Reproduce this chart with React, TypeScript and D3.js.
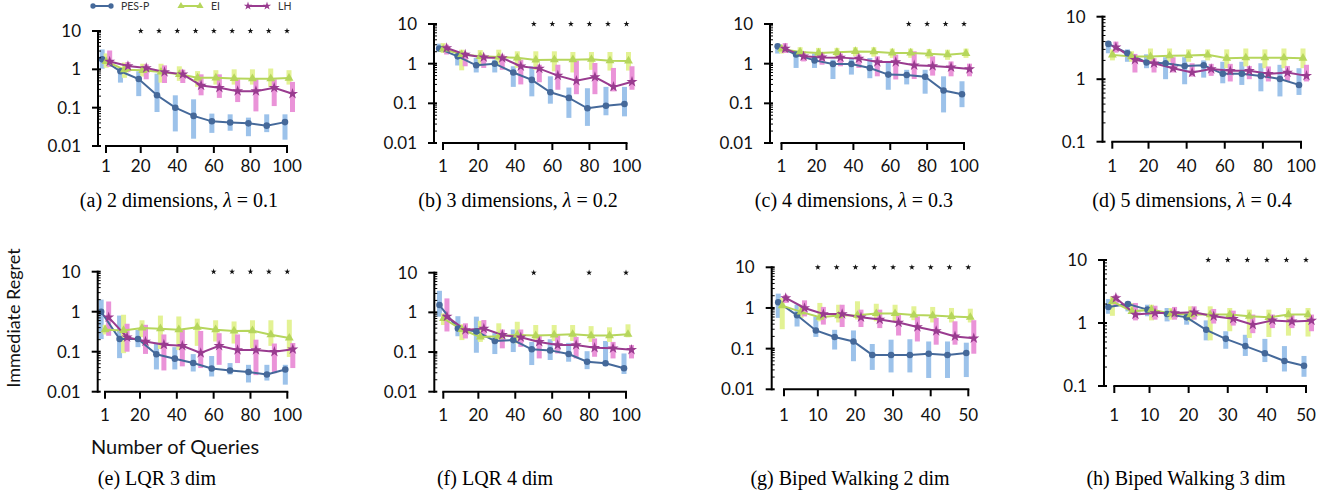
import React from 'react';
import * as d3 from 'd3';

// x positions of the sampled points
const xFull = [0, 10, 20, 30, 40, 50, 60, 70, 80, 90, 100];
const xHalf = [0, 5, 10, 15, 20, 25, 30, 35, 40, 45, 50];
const ticksFull = [1, 20, 40, 60, 80, 100];
const ticksHalf = [1, 10, 20, 30, 40, 50];

// each series: [mean, low, high] per point
// (a) 2 dimensions
const aPes = [[1.82, 1.04, 3.3], [0.89, 0.45, 0.95], [0.56, 0.2, 0.89], [0.21, 0.077, 0.77], [0.1, 0.024, 0.21], [0.061, 0.0155, 0.165], [0.044, 0.022, 0.07], [0.041, 0.025, 0.067], [0.039, 0.018, 0.055], [0.034, 0.023, 0.067], [0.042, 0.0146, 0.067]];
const aEi = [[1.6, 1.1, 2.6], [0.98, 0.6, 1.5], [0.94, 0.65, 1.4], [0.85, 0.45, 1.4], [0.74, 0.5, 1.2], [0.6, 0.35, 0.9], [0.6, 0.4, 0.95], [0.58, 0.4, 1.0], [0.57, 0.4, 1.0], [0.57, 0.35, 1.05], [0.59, 0.4, 0.95]];
const aLh = [[1.6, 1.15, 3.1], [1.22, 0.85, 1.55], [1.08, 0.55, 1.35], [0.85, 0.44, 1.27], [0.74, 0.44, 0.98], [0.38, 0.21, 0.74], [0.33, 0.18, 0.74], [0.27, 0.14, 0.55], [0.27, 0.08, 0.57], [0.33, 0.11, 0.55], [0.23, 0.077, 0.47]];
// (b) 3 dimensions
const bPes = [[2.4, 2.05, 3.2], [1.53, 0.9, 1.7], [0.91, 0.6, 1.4], [1.0, 0.6, 1.26], [0.6, 0.26, 0.86], [0.39, 0.15, 0.86], [0.19, 0.098, 0.48], [0.137, 0.043, 0.25], [0.075, 0.027, 0.24], [0.087, 0.05, 0.26], [0.096, 0.047, 0.26]];
const bEi = [[2.34, 1.86, 3.3], [1.7, 0.68, 2.25], [1.53, 0.86, 2.2], [1.47, 0.89, 2.25], [1.4, 0.78, 2.05], [1.24, 0.7, 2.05], [1.26, 0.64, 2.05], [1.26, 0.6, 1.97], [1.29, 0.7, 1.97], [1.19, 0.67, 1.97], [1.17, 0.67, 1.97]];
const bLh = [[2.48, 1.7, 3.0], [1.7, 0.86, 1.93], [1.44, 0.78, 1.7], [1.39, 0.7, 1.7], [0.86, 0.3, 1.26], [0.75, 0.34, 0.94], [0.5, 0.22, 0.94], [0.37, 0.17, 1.2], [0.46, 0.17, 1.04], [0.26, 0.2, 0.78], [0.35, 0.22, 0.86]];
// (c) 4 dimensions
const cPes = [[2.73, 1.8, 3.0], [1.7, 0.78, 1.86], [1.21, 0.78, 1.8], [0.98, 0.41, 1.26], [0.98, 0.53, 1.39], [0.78, 0.43, 1.39], [0.53, 0.22, 1.14], [0.52, 0.3, 0.7], [0.47, 0.175, 0.7], [0.21, 0.059, 0.48], [0.17, 0.08, 0.36]];
const cEi = [[2.34, 1.8, 3.0], [1.97, 1.5, 2.6], [1.86, 1.4, 2.5], [1.93, 1.45, 2.5], [2.04, 1.55, 2.6], [2.0, 1.5, 2.6], [1.86, 1.4, 2.4], [1.86, 1.4, 2.4], [1.79, 1.35, 2.35], [1.69, 1.25, 2.25], [1.82, 1.4, 2.4]];
const cLh = [[2.39, 1.86, 3.3], [1.53, 1.14, 2.05], [1.44, 0.94, 1.86], [1.42, 0.86, 1.8], [1.34, 0.78, 1.7], [1.1, 0.48, 1.53], [1.1, 0.4, 1.69], [0.91, 0.41, 2.05], [0.87, 0.5, 1.53], [0.81, 0.48, 1.14], [0.73, 0.48, 1.0]];
// (d) 5 dimensions
const dPes = [[3.67, 2.6, 4.0], [2.6, 1.9, 3.0], [1.85, 1.5, 2.5], [1.8, 1.0, 2.25], [1.63, 0.83, 2.25], [1.67, 1.06, 2.0], [1.22, 0.86, 1.9], [1.22, 0.81, 1.9], [1.13, 0.64, 1.8], [1.01, 0.53, 1.7], [0.81, 0.56, 1.5]];
const dEi = [[2.45, 2.0, 3.0], [2.3, 1.9, 2.8], [2.3, 1.85, 3.1], [2.37, 1.9, 3.1], [2.4, 1.9, 3.0], [2.45, 2.0, 3.0], [2.17, 1.5, 3.0], [2.2, 1.6, 3.1], [2.2, 1.5, 3.0], [2.2, 1.5, 3.1], [2.17, 1.5, 3.1]];
const dLh = [[3.25, 2.66, 4.0], [2.04, 1.28, 2.54], [1.8, 1.28, 2.17], [1.5, 1.28, 2.25], [1.28, 1.1, 1.8], [1.45, 1.13, 1.76], [1.36, 0.92, 1.76], [1.36, 1.0, 1.63], [1.22, 0.92, 1.6], [1.28, 0.94, 1.63], [1.13, 0.92, 1.7]];
// (e) LQR 3 dim
const ePes = [[1.0, 0.207, 2.0], [0.207, 0.069, 0.8], [0.207, 0.13, 0.35], [0.086, 0.036, 0.17], [0.067, 0.036, 0.13], [0.052, 0.032, 0.087], [0.038, 0.024, 0.078], [0.034, 0.027, 0.052], [0.031, 0.017, 0.047], [0.027, 0.019, 0.047], [0.036, 0.015, 0.047]];
const eEi = [[0.355, 0.27, 0.47], [0.34, 0.092, 0.84], [0.39, 0.23, 0.61], [0.375, 0.117, 0.8], [0.355, 0.11, 0.76], [0.41, 0.14, 0.67], [0.355, 0.18, 0.61], [0.33, 0.16, 0.57], [0.335, 0.124, 0.61], [0.266, 0.14, 0.61], [0.22, 0.074, 0.63]];
const eLh = [[0.72, 0.25, 1.8], [0.23, 0.1, 0.5], [0.18, 0.088, 0.47], [0.15, 0.034, 0.27], [0.14, 0.043, 0.36], [0.093, 0.039, 0.33], [0.14, 0.047, 0.29], [0.11, 0.052, 0.27], [0.11, 0.026, 0.2], [0.1, 0.029, 0.16], [0.115, 0.039, 0.165]];
// (f) LQR 4 dim
const fPes = [[1.53, 0.78, 3.5], [0.39, 0.25, 0.8], [0.33, 0.096, 0.78], [0.19, 0.089, 0.3], [0.2, 0.1, 0.37], [0.117, 0.047, 0.18], [0.11, 0.063, 0.21], [0.089, 0.057, 0.17], [0.057, 0.037, 0.105], [0.052, 0.044, 0.19], [0.039, 0.028, 0.092]];
const fEi = [[0.7, 0.48, 0.94], [0.37, 0.2, 0.5], [0.24, 0.18, 0.61], [0.25, 0.19, 0.53], [0.27, 0.165, 0.58], [0.26, 0.18, 0.48], [0.27, 0.19, 0.48], [0.28, 0.19, 0.48], [0.26, 0.18, 0.45], [0.26, 0.18, 0.42], [0.28, 0.235, 0.5]];
const fLh = [[0.78, 0.33, 2.25], [0.36, 0.22, 0.53], [0.39, 0.235, 0.64], [0.27, 0.124, 0.37], [0.235, 0.135, 0.37], [0.18, 0.069, 0.27], [0.15, 0.092, 0.27], [0.15, 0.069, 0.24], [0.128, 0.076, 0.22], [0.124, 0.069, 0.18], [0.114, 0.069, 0.15]];
// (g) Biped walking 2 dim
const gPes = [[1.38, 0.57, 2.25], [0.66, 0.35, 1.2], [0.28, 0.194, 0.62], [0.194, 0.095, 0.29], [0.15, 0.049, 0.28], [0.07, 0.03, 0.13], [0.07, 0.026, 0.166], [0.07, 0.026, 0.17], [0.075, 0.019, 0.15], [0.07, 0.019, 0.15], [0.078, 0.02, 0.14]];
const gEi = [[1.14, 0.3, 1.76], [0.8, 0.57, 1.2], [0.59, 0.47, 1.33], [0.65, 0.44, 1.2], [0.66, 0.52, 1.46], [0.73, 0.47, 1.27], [0.73, 0.47, 1.2], [0.67, 0.5, 1.1], [0.65, 0.44, 1.06], [0.62, 0.44, 1.0], [0.59, 0.44, 0.96]];
const gLh = [[1.76, 1.33, 2.1], [1.0, 0.62, 1.54], [0.71, 0.39, 1.06], [0.71, 0.34, 1.2], [0.59, 0.34, 0.91], [0.52, 0.32, 0.91], [0.44, 0.21, 0.69], [0.34, 0.15, 0.62], [0.27, 0.125, 0.57], [0.2, 0.125, 0.47], [0.18, 0.075, 0.5]];
// (h) Biped walking 3 dim
const hPes = [[1.79, 1.4, 2.4], [2.0, 1.53, 2.2], [1.63, 1.28, 1.95], [1.39, 1.06, 1.73], [1.23, 0.94, 1.44], [0.78, 0.53, 1.1], [0.56, 0.39, 0.74], [0.43, 0.3, 0.65], [0.33, 0.24, 0.56], [0.25, 0.17, 0.43], [0.21, 0.14, 0.3]];
const hEi = [[2.2, 1.3, 2.65], [1.53, 1.44, 2.08], [1.63, 1.1, 1.95], [1.4, 1.13, 1.73], [1.36, 1.06, 1.84], [1.36, 0.53, 1.84], [1.36, 0.74, 1.73], [1.28, 0.58, 1.63], [1.23, 0.6, 1.63], [1.36, 0.63, 1.73], [1.36, 0.61, 1.73]];
const hLh = [[2.5, 1.84, 2.8], [1.36, 1.1, 2.08], [1.44, 1.13, 1.88], [1.44, 1.13, 1.8], [1.48, 1.13, 1.84], [1.28, 0.98, 1.67], [1.17, 0.91, 1.57], [0.94, 0.69, 1.36], [1.1, 0.83, 1.36], [1.06, 0.83, 1.36], [1.09, 0.74, 1.36]];

// significance stars
const aStars = [20, 30, 40, 50, 60, 70, 80, 90, 100];
const bStars = [50, 60, 70, 80, 90, 100];
const cStars = [70, 80, 90, 100];
const dStars: number[] = [];
const eStars = [60, 70, 80, 90, 100];
const fStars = [50, 80, 100];
const gStars = [10, 15, 20, 25, 30, 35, 40, 45, 50];
const hStars = [25, 30, 35, 40, 45, 50];

const seriesNames = ['PES-P', 'EI', 'LH'];

const C = {
  pes: '#45699a', pesBar: '#9cc2ea',
  ei: '#b6d65c', eiBar: '#e3f294',
  lh: '#993b8f', lhBar: '#ea93d8',
};
const SANS = 'Lato, "Open Sans", sans-serif';
const SERIF = '"Liberation Serif", "Times New Roman", Times, serif';

const styles = [
  { line: C.pes, bar: C.pesBar, sym: d3.symbolCircle, size: 34, dx: -2 },
  { line: C.ei, bar: C.eiBar, sym: d3.symbolTriangle, size: 34, dx: 2 },
  { line: C.lh, bar: C.lhBar, sym: d3.symbolStar, size: 38, dx: 5.5 },
];

const panels = [
  { key: 'a', ax: 98, top: 31, bottom: 146, x1: 106, xN: 287, yMin: 0.01, xs: xFull, ticks: ticksFull, series: [aPes, aEi, aLh], stars: aStars, row: 0, cx: 179, cap: ['(a) 2 dimensions, ', '0.1'] },
  { key: 'b', ax: 434, top: 24, bottom: 143, x1: 443, xN: 626.5, yMin: 0.01, xs: xFull, ticks: ticksFull, series: [bPes, bEi, bLh], stars: bStars, row: 0, cx: 518, cap: ['(b) 3 dimensions, ', '0.2'] },
  { key: 'c', ax: 770, top: 24, bottom: 143, x1: 781.5, xN: 964, yMin: 0.01, xs: xFull, ticks: ticksFull, series: [cPes, cEi, cLh], stars: cStars, row: 0, cx: 854, cap: ['(c) 4 dimensions, ', '0.3'] },
  { key: 'd', ax: 1102.5, top: 16.7, bottom: 141.7, x1: 1112.3, xN: 1301, yMin: 0.1, xs: xFull, ticks: ticksFull, series: [dPes, dEi, dLh], stars: dStars, row: 0, cx: 1192, cap: ['(d) 5 dimensions, ', '0.4'] },
  { key: 'e', ax: 97.7, top: 271.7, bottom: 391.7, x1: 105, xN: 287.3, yMin: 0.01, xs: xFull, ticks: ticksFull, series: [ePes, eEi, eLh], stars: eStars, row: 1, cx: 157, cap: ['(e) LQR 3 dim'] },
  { key: 'f', ax: 434.3, top: 272.7, bottom: 391.7, x1: 443.3, xN: 626, yMin: 0.01, xs: xFull, ticks: ticksFull, series: [fPes, fEi, fLh], stars: fStars, row: 1, cx: 495, cap: ['(f) LQR 4 dim'] },
  { key: 'g', ax: 771.7, top: 267.3, bottom: 389.3, x1: 784, xN: 968.3, yMin: 0.01, xs: xHalf, ticks: ticksHalf, series: [gPes, gEi, gLh], stars: gStars, row: 1, cx: 850, cap: ['(g) Biped Walking 2 dim'] },
  { key: 'h', ax: 1104, top: 260, bottom: 386, x1: 1114.3, xN: 1306, yMin: 0.1, xs: xHalf, ticks: ticksHalf, series: [hPes, hEi, hLh], stars: hStars, row: 1, cx: 1186, cap: ['(h) Biped Walking 3 dim'] },
];

const rowLabelY = [172, 421];
const rowCapY = [207, 485];

function Panel({ p }: { p: any }) {
  const x = d3.scaleLinear().domain([1, p.ticks[p.ticks.length - 1]]).range([p.x1, p.xN]);
  const y = d3.scaleLog().domain([p.yMin, 10]).range([p.bottom, p.top]);

  const majors = y.ticks().filter((v: number) => Math.abs(Math.log10(v) - Math.round(Math.log10(v))) < 1e-9);
  const minors = y.ticks().filter((v: number) => !majors.includes(v));

  const line = d3.line<number[]>()
    .x((d) => d[0])
    .y((d) => d[1]);

  return (
    <g>
      {/* error bars */}
      {p.series.map((s: number[][], si: number) => s.map((d, i) => (
        <rect key={`b${si}-${i}`} x={x(p.xs[i]) + styles[si].dx - 2.5} width={5}
          y={y(d[2])} height={y(d[1]) - y(d[2])} fill={styles[si].bar} />
      )))}
      {/* lines */}
      {p.series.map((s: number[][], si: number) => (
        <path key={`l${si}`} d={line(s.map((d, i) => [x(p.xs[i]) + styles[si].dx, y(d[0])])) || ''}
          fill="none" stroke={styles[si].line} strokeWidth={2} />
      ))}
      {/* markers */}
      {p.series.map((s: number[][], si: number) => s.map((d, i) => (
        <path key={`m${si}-${i}`} d={d3.symbol(styles[si].sym, styles[si].size)() || ''}
          transform={`translate(${x(p.xs[i]) + styles[si].dx},${y(d[0])})`} fill={styles[si].line} />
      )))}
      {/* significance stars */}
      {p.stars.map((v: number) => (
        <path key={`s${v}`} d={d3.symbol(d3.symbolStar, 11)() || ''}
          transform={`translate(${x(v)},${y(10)})`} fill="#111" />
      ))}
      {/* y axis */}
      <line x1={p.ax} x2={p.ax} y1={y(10) - 1} y2={y(p.yMin) + 1} stroke="#000" strokeWidth={2} />
      {majors.map((v: number) => (
        <g key={`y${v}`}>
          <line x1={p.ax - 6} x2={p.ax + 3} y1={y(v)} y2={y(v)} stroke="#000" strokeWidth={2} />
          <text x={p.ax - 17} y={y(v)} dy="0.36em" textAnchor="end" fontFamily={SANS} fontSize={17} fill="#111">
            {d3.format('~g')(v)}
          </text>
        </g>
      ))}
      {minors.map((v: number) => (
        <line key={`ym${v}`} x1={p.ax} x2={p.ax + 3} y1={y(v)} y2={y(v)} stroke="#000" strokeWidth={1} />
      ))}
      {/* x axis */}
      <line x1={x(p.ticks[0]) - 1} x2={x(p.ticks[p.ticks.length - 1]) + 1} y1={p.bottom} y2={p.bottom} stroke="#000" strokeWidth={2} />
      {p.ticks.map((t: number) => (
        <g key={`x${t}`}>
          <line x1={x(t)} x2={x(t)} y1={p.bottom} y2={p.bottom + 7} stroke="#000" strokeWidth={2} />
          <text x={x(t)} y={rowLabelY[p.row]} textAnchor="middle" fontFamily={SANS} fontSize={17} fill="#111">{t}</text>
        </g>
      ))}
      {/* caption */}
      <text x={p.cx} y={rowCapY[p.row]} textAnchor="middle" fontFamily={SERIF} fontSize={20} fill="#000">
        {p.cap[0]}
        {p.cap.length > 1 && <tspan fontStyle="italic">λ</tspan>}
        {p.cap.length > 1 && ` = ${p.cap[1]}`}
      </text>
    </g>
  );
}

function Legend() {
  const items = [
    { x0: 93, x1: 111, tx: 121 },
    { x0: 181, x1: 200, tx: 211 },
    { x0: 248, x1: 267, tx: 278 },
  ];
  const ly = 6;
  return (
    <g>
      {items.map((it, i) => (
        <g key={i}>
          <line x1={it.x0} x2={it.x1} y1={ly} y2={ly} stroke={styles[i].line} strokeWidth={2} />
          {[it.x0, it.x1].map((px) => (
            <path key={px} d={d3.symbol(styles[i].sym, 22)() || ''} transform={`translate(${px},${ly})`} fill={styles[i].line} />
          ))}
          <text x={it.tx} y={ly} dy="0.35em" fontFamily={SANS} fontSize={10.5} fill="#333">{seriesNames[i]}</text>
        </g>
      ))}
    </g>
  );
}

export default function App() {
  return (
    <svg width={1341} height={496} style={{ position: 'absolute', left: 0, top: 0, background: '#fff' }}>
      <Legend />
      {panels.map((p) => <Panel key={p.key} p={p} />)}
      <text transform="translate(20,318) rotate(-90)" textAnchor="middle" fontFamily={SANS} fontSize={18} fill="#111">Immediate Regret</text>
      <text x={175} y={454} textAnchor="middle" fontFamily={SANS} fontSize={20} fill="#111">Number of Queries</text>
    </svg>
  );
}
